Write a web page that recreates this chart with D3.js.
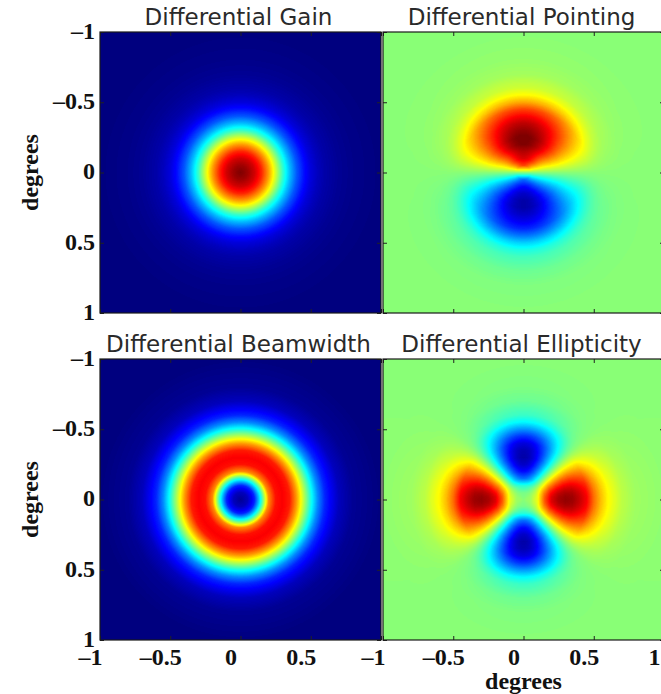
<!DOCTYPE html>
<html>
<head>
<meta charset="utf-8">
<script src="https://cdn.jsdelivr.net/npm/d3@7"></script>
<style>
  body { margin: 0; background: #fff; }
  svg { display: block; }
</style>
</head>
<body>
<div id="chart"></div>
<script>
// radial sample positions (degrees from beam centre)
const radii = [0, 0.05, 0.1, 0.15, 0.2, 0.25, 0.3, 0.35, 0.4, 0.45, 0.5, 0.55, 0.6, 0.7, 0.8, 1.0, 1.5];

// colour-scale values (0..1)
const gainProfile      = [1.0, 0.97, 0.92, 0.84, 0.72, 0.58, 0.43, 0.31, 0.21, 0.14, 0.09, 0.06, 0.04, 0.02, 0.01, 0, 0];
const beamwidthProfile = [0.02, 0.06, 0.16, 0.42, 0.74, 0.86, 0.88, 0.85, 0.72, 0.56, 0.4, 0.26, 0.16, 0.06, 0.02, 0, 0];

// lobe amplitudes (offset from the zero colour) along the lobe axis
const pointingUpper    = [0, 0.3, 0.4, 0.44, 0.49, 0.5, 0.47, 0.43, 0.37, 0.3, 0.2, 0.12, 0.07, 0.025, 0.01, 0, 0];
const pointingLower    = [0, 0.28, 0.38, 0.44, 0.47, 0.47, 0.44, 0.4, 0.35, 0.27, 0.18, 0.11, 0.07, 0.03, 0.01, 0, 0];
const ellipticityX     = [0, 0.02, 0.1, 0.28, 0.4, 0.45, 0.47, 0.46, 0.42, 0.37, 0.26, 0.18, 0.12, 0.05, 0.02, 0.005, 0];
const ellipticityY     = [0, 0.02, 0.1, 0.28, 0.38, 0.44, 0.47, 0.46, 0.42, 0.34, 0.24, 0.14, 0.08, 0.03, 0.01, 0, 0];
const zeroLevel = 0.51;

const titles = ['Differential Gain', 'Differential Pointing', 'Differential Beamwidth', 'Differential Ellipticity'];
const ticks = [-1, -0.5, 0, 0.5, 1];
const tickLabels = ['\u20131', '\u20130.5', '0', '0.5', '1'];
const axisLabel = 'degrees';

// jet colormap
const jetStops  = [0, 0.125, 0.375, 0.625, 0.875, 1];
const jetColors = ['#00007f', '#0000ff', '#00ffff', '#ffff00', '#ff0000', '#7f0000'];

const width = 661, height = 694;
const colX = [100, 383], rowY = [32, 359];
const size = 281;

const jet = d3.scaleLinear().domain(jetStops).range(jetColors).clamp(true);
const lut = d3.range(256).map(i => d3.rgb(jet(i / 255)));

const prof = arr => d3.scaleLinear().domain(radii).range(arr).clamp(true);
const gain = prof(gainProfile), beam = prof(beamwidthProfile);
const pUp = prof(pointingUpper), pDown = prof(pointingLower);
const eX = prof(ellipticityX), eY = prof(ellipticityY);

const fields = [
  (x, y, r) => gain(r),
  (x, y, r) => {
    const s = r > 0 ? Math.abs(y) / r : 0;
    return y < 0 ? zeroLevel + pUp(r) * s : zeroLevel - pDown(r) * s;
  },
  (x, y, r) => beam(r),
  (x, y, r) => {
    const c = r > 0 ? (x * x - y * y) / (r * r) : 0;
    return zeroLevel + (c > 0 ? eX(r) : eY(r)) * c;
  }
];

const svg = d3.select('#chart').append('svg')
  .attr('width', width)
  .attr('height', height);

const serif = '"Liberation Serif", "Times New Roman", serif';

titles.forEach((title, i) => {
  const col = i % 2, row = Math.floor(i / 2);
  const x = d3.scaleLinear().domain([-1, 1]).range([0, size]);
  const y = d3.scaleLinear().domain([-1, 1]).range([0, size]);

  // raster the field through the scales
  const canvas = document.createElement('canvas');
  canvas.width = size; canvas.height = size;
  const ctx = canvas.getContext('2d');
  const img = ctx.createImageData(size, size);
  for (let py = 0; py < size; py++) {
    const vy = y.invert(py + 0.5);
    for (let px = 0; px < size; px++) {
      const vx = x.invert(px + 0.5);
      const v = fields[i](vx, vy, Math.hypot(vx, vy));
      const c = lut[Math.max(0, Math.min(255, Math.round(v * 255)))];
      const k = (py * size + px) * 4;
      img.data[k] = c.r; img.data[k + 1] = c.g; img.data[k + 2] = c.b; img.data[k + 3] = 255;
    }
  }
  ctx.putImageData(img, 0, 0);

  const g = svg.append('g')
    .attr('transform', `translate(${colX[col]},${rowY[row]})`);

  g.append('image')
    .attr('width', size).attr('height', size)
    .attr('preserveAspectRatio', 'none')
    .attr('href', canvas.toDataURL());

  // inward ticks on every side
  const axes = [
    [d3.axisLeft(y), null],
    [d3.axisRight(y), `translate(${size},0)`],
    [d3.axisTop(x), null],
    [d3.axisBottom(x), `translate(0,${size})`]
  ];
  axes.forEach(([ax, tr], k) => {
    const showLabels = (k === 0 && col === 0) || (k === 3 && row === 1);
    const a = g.append('g')
      .attr('transform', tr)
      .call(ax.tickValues(ticks).tickSize(-4).tickPadding(k === 3 ? 8 : 5)
        .tickFormat((d, j) => {
          if (!showLabels) return '';
          // the left panel's "1" sits under the right panel's "-1"
          if (k === 3 && col === 0 && d === 1) return '';
          return tickLabels[j];
        }));
    a.select('.domain').remove();
    a.selectAll('.tick line').attr('stroke', '#222');
    a.selectAll('.tick text')
      .attr('fill', '#111')
      .style('font-family', serif)
      .style('font-weight', 'bold')
      .style('font-size', '24px');
    if (k === 3) a.selectAll('.tick text').attr('dx', -10);
    if (k === 0) a.selectAll('.tick text').attr('dy', '0.26em');
  });

  g.append('rect')
    .attr('width', size).attr('height', size)
    .attr('fill', 'none')
    .attr('stroke', '#1a1a1a')
    .attr('stroke-width', 1.2);

  svg.append('text')
    .attr('x', colX[col] + size / 2 - 2)
    .attr('y', rowY[row] - 7)
    .attr('text-anchor', 'middle')
    .attr('fill', '#2a2a2a')
    .style('font-family', '"DejaVu Sans", sans-serif')
    .style('font-size', '23px')
    .text(title);

  if (col === 0) {
    svg.append('text')
      .attr('transform', `translate(38,${rowY[row] + size / 2}) rotate(-90)`)
      .attr('text-anchor', 'middle')
      .attr('fill', '#111')
      .style('font-family', serif)
      .style('font-weight', 'bold')
      .style('font-size', '24px')
      .text(axisLabel);
  }
  if (col === 1 && row === 1) {
    svg.append('text')
      .attr('x', colX[col] + size / 2)
      .attr('y', 689)
      .attr('text-anchor', 'middle')
      .attr('fill', '#111')
      .style('font-family', serif)
      .style('font-weight', 'bold')
      .style('font-size', '24px')
      .text(axisLabel);
  }
});
</script>
</body>
</html>
